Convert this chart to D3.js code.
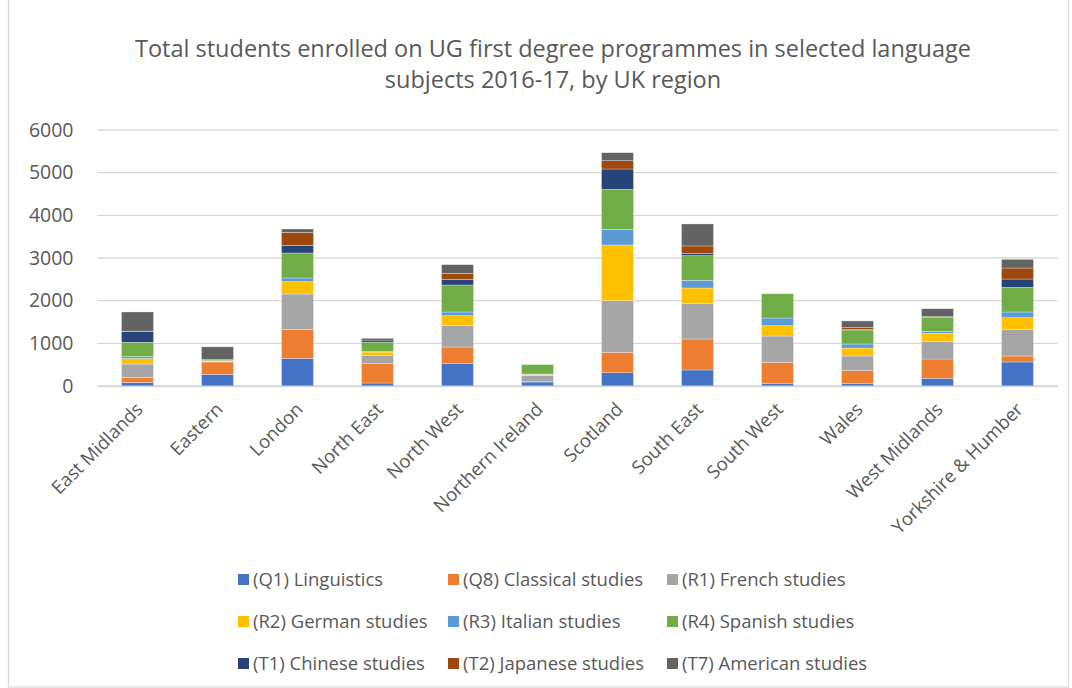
<!DOCTYPE html>
<meta charset="utf-8">
<style>
    html,
    body {
        margin: 0;
        padding: 0;
        background: #fff;
    }

    text {
        font-family: "Open Sans", sans-serif;
        fill: #595959;
    }

    .grid line {
        stroke: #d9d9d9;
        stroke-width: 1.3px;
    }
</style>
<svg id="canvas" width="1072" height="688"></svg>
<script src="https://d3js.org/d3.v7.min.js"></script>
<script>
    // regions along the x axis
    const regions = ["East Midlands", "Eastern", "London", "North East", "North West", "Northern Ireland",
        "Scotland", "South East", "South West", "Wales", "West Midlands", "Yorkshire & Humber"];

    // subject series, bottom to top
    const subjects = ["(Q1) Linguistics", "(Q8) Classical studies", "(R1) French studies",
        "(R2) German studies", "(R3) Italian studies", "(R4) Spanish studies",
        "(T1) Chinese studies", "(T2) Japanese studies", "(T7) American studies"];

    const linguistics = [85, 273, 648, 70, 523, 94, 312, 375, 62, 62, 180, 562];
    const classical = [120, 290, 680, 453, 391, 5, 477, 727, 492, 297, 453, 141];
    const french = [310, 15, 828, 187, 500, 148, 1211, 836, 617, 344, 414, 625];
    const german = [130, 10, 289, 86, 234, 25, 1305, 359, 242, 187, 187, 273];
    const italian = [45, 5, 86, 15, 86, 10, 367, 180, 180, 94, 47, 133];
    const spanish = [335, 20, 586, 218, 633, 219, 937, 578, 570, 328, 328, 578];
    const chinese = [250, 0, 180, 47, 133, 0, 477, 55, 0, 10, 10, 195];
    const japanese = [10, 5, 305, 39, 141, 0, 195, 172, 0, 47, 5, 258];
    const american = [450, 300, 78, 10, 203, 0, 187, 516, 0, 156, 187, 203];

    const yTicks = [0, 1000, 2000, 3000, 4000, 5000, 6000];

    const seriesValues = [linguistics, classical, french, german, italian, spanish, chinese, japanese, american];
    const colors = ["#4472C4", "#ED7D31", "#A5A5A5", "#FFC000", "#5B9BD5", "#70AD47", "#264478", "#9E480E", "#636363"];

    // build table rows for d3.stack
    const table = regions.map(function(r, i) {
        const row = { region: r };
        subjects.forEach(function(s, k) {
            row[s] = seriesValues[k][i];
        });
        return row;
    });

    const svg = d3.select("svg");

    // chart border
    svg.append("rect")
        .attr("x", 8.5).attr("y", -2)
        .attr("width", 1060).attr("height", 689)
        .attr("fill", "none")
        .attr("stroke", "#d9d9d9")
        .attr("stroke-width", 1.3);

    const margin = { left: 97.5, right: 1057.5, top: 130, bottom: 386 };

    const x = d3.scaleBand()
        .domain(regions)
        .range([margin.left, margin.right])
        .paddingInner(0.6)
        .paddingOuter(0.3);

    const y = d3.scaleLinear()
        .domain([0, 6000])
        .range([margin.bottom, margin.top]);

    // title
    const title = svg.append("text")
        .attr("text-anchor", "middle")
        .style("font-size", "23.5px");
    title.append("tspan").attr("x", 553).attr("y", 57)
        .text("Total students enrolled on UG first degree programmes in selected language");
    title.append("tspan").attr("x", 553).attr("y", 88)
        .text("subjects 2016-17, by UK region");

    // gridlines
    svg.append("g")
        .attr("class", "grid")
        .selectAll("line")
        .data(yTicks)
        .enter().append("line")
        .attr("x1", margin.left)
        .attr("x2", margin.right)
        .attr("y1", function(d) { return y(d); })
        .attr("y2", function(d) { return y(d); });

    // y axis labels
    const yAxis = svg.append("g")
        .attr("transform", "translate(" + margin.left + ",0)")
        .call(d3.axisLeft(y).tickValues(yTicks).tickSize(0).tickPadding(24).tickFormat(d3.format("d")));
    yAxis.select(".domain").remove();
    yAxis.selectAll("text")
        .style("font-size", "19.5px")
        .style("font-family", "'Open Sans', sans-serif")
        .attr("fill", "#595959");

    // stacked bars
    const stack = d3.stack().keys(subjects);
    const layers = stack(table);

    svg.append("g")
        .selectAll("g")
        .data(layers)
        .enter().append("g")
        .attr("fill", function(d, i) { return colors[i]; })
        .selectAll("rect")
        .data(function(d) { return d; })
        .enter().append("rect")
        .attr("x", function(d) { return x(d.data.region); })
        .attr("width", x.bandwidth())
        .attr("y", function(d) { return y(d[1]); })
        .attr("height", function(d) { return y(d[0]) - y(d[1]); })
        .attr("stroke", "#ffffff")
        .attr("stroke-opacity", 0.5)
        .attr("stroke-width", 0.6);

    // x axis
    const xAxis = svg.append("g")
        .attr("transform", "translate(0," + margin.bottom + ")")
        .call(d3.axisBottom(x).tickSize(0).tickPadding(0));
    xAxis.select(".domain").attr("stroke", "#d9d9d9").attr("stroke-width", 1.3);
    xAxis.selectAll("text")
        .style("font-size", "18.5px")
        .style("font-family", "'Open Sans', sans-serif")
        .attr("fill", "#595959")
        .attr("text-anchor", "end")
        .attr("dy", "0.35em")
        .attr("transform", "translate(2,20) rotate(-45)");

    // legend
    const legendCols = [238, 448, 667];
    const legendRows = [580, 622, 664];
    const legend = svg.append("g")
        .selectAll("g")
        .data(subjects)
        .enter().append("g")
        .attr("transform", function(d, i) {
            return "translate(" + legendCols[i % 3] + "," + legendRows[Math.floor(i / 3)] + ")";
        });
    legend.append("rect")
        .attr("x", 0).attr("y", -6)
        .attr("width", 11).attr("height", 11)
        .attr("fill", function(d, i) { return colors[i]; });
    legend.append("text")
        .attr("x", 15)
        .attr("dy", "0.35em")
        .style("font-size", "18.5px")
        .text(function(d) { return d; });
</script>
